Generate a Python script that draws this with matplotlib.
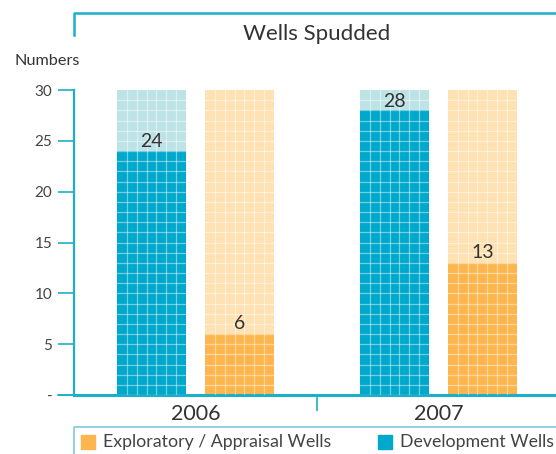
import numpy as np
import matplotlib
matplotlib.use("Agg")
import matplotlib.pyplot as plt
from matplotlib.lines import Line2D

plt.rcParams["font.family"] = ["Lato", "DejaVu Sans"]

# data
years = ["2006", "2007"]
development = [24, 28]
exploratory = [6, 13]
scale_max = 30
yticks = [0, 5, 10, 15, 20, 25, 30]
yticklabels = ["-", "5", "10", "15", "20", "25", "30"]

# colours
teal = "#00A8CC"
teal_light = "#BDE3E6"
orange = "#FDB64D"
orange_light = "#FFE2B3"
line_col = "#1AAFCB"
text_col = "#333333"

W, H = 556, 454
fig = plt.figure(figsize=(W / 100, H / 100), dpi=100)
fig.patch.set_facecolor("white")


def px(x, y):
    return x / W, 1 - y / H


ax = fig.add_axes([74 / W, 59 / H, (W - 74) / W, 305 / H])
ax.set_xlim(-0.5, 1.484)
ax.set_ylim(0, scale_max)

x = np.arange(len(years))
bw = 0.284
off = 0.181


def grid_bar(xc, val, dark, light):
    ax.bar(xc, scale_max, bw, color=light, zorder=1)
    ax.bar(xc, val, bw, color=dark, zorder=2)
    # white cell grid inside the bar
    for yy in range(1, scale_max):
        ax.plot([xc - bw / 2, xc + bw / 2], [yy, yy], color="white",
                lw=0.9, alpha=0.45, zorder=3)
    for k in range(1, 7):
        xx = xc - bw / 2 + bw * k / 7
        ax.plot([xx, xx], [0, scale_max], color="white", lw=0.9,
                alpha=0.45, zorder=3)


for i in range(len(years)):
    grid_bar(x[i] - off, development[i], teal, teal_light)
    grid_bar(x[i] + off, exploratory[i], orange, orange_light)
    ax.text(x[i] - off, development[i] + 0.9, str(development[i]),
            ha="center", va="center", fontsize=14, color=text_col, zorder=4)
    ax.text(x[i] + off, exploratory[i] + 1.0, str(exploratory[i]),
            ha="center", va="center", fontsize=14, color=text_col, zorder=4)

# axes styling
for s in ["top", "right"]:
    ax.spines[s].set_visible(False)
ax.spines["left"].set_color(line_col)
ax.spines["left"].set_linewidth(1.6)
ax.spines["bottom"].set_color(line_col)
ax.spines["bottom"].set_linewidth(2.2)
ax.set_yticks(yticks)
ax.set_yticklabels(yticklabels)
ax.tick_params(axis="y", length=11.5, width=1.2, color=line_col,
               labelsize=11, labelcolor="#444444", pad=4)
ax.set_xticks(x)
ax.set_xticklabels(years)
ax.tick_params(axis="x", length=0, labelsize=15.5, labelcolor=text_col, pad=6.5)
ax.set_xticks([0.5], minor=True)
ax.tick_params(axis="x", which="minor", length=11.5, width=1.2, color=line_col)
ax.set_zorder(2)
ax.patch.set_alpha(0)

# bottom line extends to 0 tick
fig.add_artist(Line2D(*zip(px(58, 395), px(74, 395)), color=line_col, lw=1.2))

# title frame
fig.add_artist(Line2D(*zip(px(74, 35), px(74, 13), px(W, 13)), color=line_col, lw=1.8))
fig.text(*px(317, 34), "Wells Spudded", ha="center", va="center",
         fontsize=16, color=text_col)
fig.text(*px(14, 61), "Numbers", ha="left", va="center", fontsize=11.7,
         color=text_col)

# legend frame
fig.add_artist(Line2D(*zip(px(74, H), px(74, 427), px(W, 427)), color="#7FCBDD", lw=1.2))
fig.patches.append(plt.Rectangle(px(81, 449), 14 / W, 14 / H,
                                 transform=fig.transFigure, color=orange))
fig.text(*px(103, 442), "Exploratory / Appraisal Wells", ha="left",
         va="center", fontsize=12.8, color="#444444")
fig.patches.append(plt.Rectangle(px(378, 449), 14 / W, 14 / H,
                                 transform=fig.transFigure, color=teal))
fig.text(*px(400, 442), "Development Wells", ha="left",
         va="center", fontsize=12.8, color="#444444")

fig.savefig("out.png", dpi=100)
